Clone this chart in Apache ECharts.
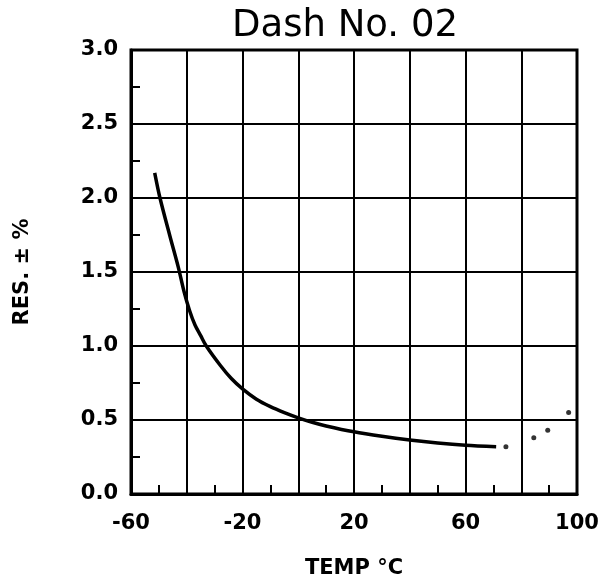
<!DOCTYPE html>
<html>
<head>
<meta charset="utf-8">
<script src="https://cdn.jsdelivr.net/npm/echarts@6/dist/echarts.min.js"></script>
<style>html,body{margin:0;padding:0;background:#fff}#c{width:608px;height:587px}</style>
</head>
<body>
<div id="c"></div>
<script>
var temps = [-51.5, -49.6, -46, -43, -41, -39, -37, -35, -33, -28, -24, -20, -15, -10, -5, 0, 5, 10, 20, 30, 40, 50, 60, 71];
var resVals = [2.17, 2.0, 1.74, 1.53, 1.37, 1.24, 1.14, 1.07, 1.0, 0.87, 0.78, 0.71, 0.64, 0.59, 0.55, 0.515, 0.485, 0.46, 0.42, 0.39, 0.365, 0.345, 0.33, 0.32];
var dotTemps = [74.5, 84.5, 89.5, 97];
var dotVals = [0.32, 0.38, 0.43, 0.55];
var xTickLabels = ['-60', '-20', '20', '60', '100'];

var chart = echarts.init(document.getElementById('c'));
var lineData = temps.map(function (t, i) { return [t, resVals[i]]; });
var dotData = dotTemps.map(function (t, i) { return [t, dotVals[i]]; });
var lbl = {color: '#000', fontFamily: 'DejaVu Sans', fontWeight: 'bold', fontSize: 21};
var nm = {color: '#000', fontFamily: 'DejaVu Sans', fontWeight: 'bold', fontSize: 21};
chart.setOption({
  animation: false,
  backgroundColor: '#fff',
  title: {
    text: 'Dash No. 02', left: 340, top: 3, textAlign: 'center',
    textStyle: {color: '#000', fontFamily: 'DejaVu Sans', fontWeight: 'normal', fontSize: 37}
  },
  grid: {left: 131, right: 31, top: 50, bottom: 93, show: true, borderColor: '#000', borderWidth: 3, containLabel: false},
  xAxis: {
    type: 'value', min: -60, max: 100, interval: 20,
    name: 'TEMP °C', nameLocation: 'middle', nameGap: 64,
    nameTextStyle: nm,
    axisLine: {show: true, onZero: false, lineStyle: {color: '#000', width: 3}},
    axisTick: {show: true, inside: true, length: 8, lineStyle: {color: '#000', width: 2}},
    minorTick: {show: true, splitNumber: 2, length: 9, lineStyle: {color: '#000', width: 2}},
    splitLine: {show: true, lineStyle: {color: '#000', width: 2}},
    axisLabel: Object.assign({margin: 19, formatter: function (v) {
      var s = String(v); return xTickLabels.indexOf(s) >= 0 ? s : '';
    }}, lbl)
  },
  yAxis: {
    type: 'value', min: 0, max: 3, interval: 0.5,
    name: 'RES. ± %', nameLocation: 'middle', nameGap: 98, nameRotate: 90,
    nameTextStyle: nm,
    axisLine: {show: true, onZero: false, lineStyle: {color: '#000', width: 3}},
    axisTick: {show: true, inside: true, length: 8, lineStyle: {color: '#000', width: 2}},
    minorTick: {show: true, splitNumber: 2, length: 9, lineStyle: {color: '#000', width: 2}},
    splitLine: {show: true, lineStyle: {color: '#000', width: 2}},
    axisLabel: Object.assign({margin: 13, formatter: function (v) { return v.toFixed(1); }}, lbl)
  },
  series: [
    {type: 'line', data: lineData, smooth: 0.3, showSymbol: false, lineStyle: {color: '#000', width: 3.5}},
    {type: 'scatter', data: dotData, symbolSize: 5, itemStyle: {color: '#000'}}
  ]
});
</script>
</body>
</html>
